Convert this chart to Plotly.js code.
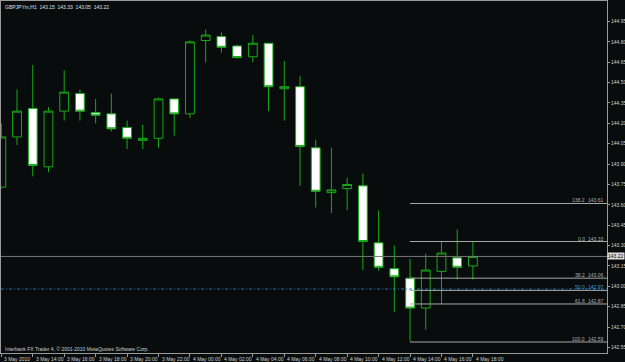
<!DOCTYPE html>
<html><head><meta charset="utf-8">
<script src="https://cdn.plot.ly/plotly-3.0.1.min.js"></script>
<style>html,body{margin:0;padding:0;background:#080c0c;}#chart{width:625px;height:362px;}</style>
</head><body><div id="chart"></div>
<script>
const times = ["3 May 12:00","3 May 13:00","3 May 14:00","3 May 15:00","3 May 16:00","3 May 17:00","3 May 18:00","3 May 19:00","3 May 20:00","3 May 21:00","3 May 22:00","3 May 23:00","4 May 00:00","4 May 01:00","4 May 02:00","4 May 03:00","4 May 04:00","4 May 05:00","4 May 06:00","4 May 07:00","4 May 08:00","4 May 09:00","4 May 10:00","4 May 11:00","4 May 12:00","4 May 13:00","4 May 14:00","4 May 15:00","4 May 16:00","4 May 17:00","4 May 18:00"];
const openP  = [143.73,144.10,144.31,143.88,144.29,144.42,144.28,144.27,144.17,144.075,144.09,144.38,144.27,144.81,144.84,144.77,144.69,144.79,144.455,144.47,144.02,143.69,143.72,143.74,143.32,143.13,143.06,142.84,143.11,143.21,143.15];
const highP  = [144.20,144.45,144.63,144.32,144.59,144.45,144.38,144.42,144.22,144.19,144.39,144.38,144.81,144.89,144.87,144.78,144.85,144.79,144.66,144.55,144.08,144.02,143.80,143.83,143.56,143.30,143.20,143.24,143.33,143.42,143.33];
const lowP   = [143.72,144.04,143.81,143.84,144.22,144.22,144.20,144.14,144.01,144.01,144.02,144.11,144.24,144.65,144.72,144.675,144.65,144.29,144.22,143.74,143.58,143.54,143.56,143.12,143.115,142.81,142.595,142.68,142.87,143.05,143.05];
const closeP = [144.10,144.29,143.89,144.29,144.43,144.29,144.26,144.16,144.09,144.09,144.38,144.27,144.80,144.85,144.76,144.685,144.79,144.47,144.47,144.03,143.70,143.71,143.75,143.33,143.14,143.07,142.84,143.12,143.245,143.14,143.22];

const yTickVals = [142.55,142.70,142.85,143.00,143.15,143.30,143.45,143.60,143.75,143.90,144.05,144.20,144.35,144.50,144.65,144.80,144.95];
const yTickText = ["142.55","142.70","142.85","143.00","143.15","143.30","143.45","143.60","143.75","143.90","144.05","144.20","144.35","144.50","144.65","144.80","144.95"];
const xTickTimes = ["3 May 12:00","3 May 14:00","3 May 16:00","3 May 18:00","3 May 20:00","3 May 22:00","4 May 00:00","4 May 02:00","4 May 04:00","4 May 06:00","4 May 08:00","4 May 10:00","4 May 12:00","4 May 14:00","4 May 16:00","4 May 18:00"];
const xTickText = ["3 May 2010","3 May 14:00","3 May 16:00","3 May 18:00","3 May 20:00","3 May 22:00","4 May 00:00","4 May 02:00","4 May 04:00","4 May 06:00","4 May 08:00","4 May 10:00","4 May 12:00","4 May 14:00","4 May 16:00","4 May 18:00"];

const fibLevels = ["138.2","0.0","38.2","50.0","61.8","100.0"];
const fibPrices = [143.61,143.33,143.06,142.97,142.87,142.59];
const fibStartTime = "4 May 14:00";
const bidPrice = 143.22;
const bluePrice = 142.98;
const headerText = "GBPJPYm,H1  143.15  143.33  143.05  143.22";
const footerText = "Interbank FX Trader 4, \u00a9 2001-2010 MetaQuotes Software Corp.";

const xIdx = times.map((t, i) => i);
const xTickIdx = xTickTimes.map(t => times.indexOf(t));
const fibStart = times.indexOf(fibStartTime);
const X0 = -0.02, X1 = 38.53;

const FONT = "Liberation Sans, Arial, sans-serif";
const FS = 5;
const GREEN = "#17aa17";
const FRAME = "#9a9a9a";

const trace = {
  type: "candlestick",
  x: xIdx, open: openP, high: highP, low: lowP, close: closeP,
  increasing: {line: {color: GREEN, width: 1}, fillcolor: "#080c0c"},
  decreasing: {line: {color: GREEN, width: 1}, fillcolor: "#ffffff"},
  whiskerwidth: 0,
  hoverinfo: "skip",
  showlegend: false
};

const shapes = [
  {type: "line", xref: "x", yref: "y", x0: X0, x1: X1, y0: bidPrice, y1: bidPrice, line: {color: "#767676", width: 1}},
  {type: "line", xref: "x", yref: "y", x0: X0, x1: X1, y0: bluePrice, y1: bluePrice, line: {color: "#2a78ad", width: 1, dash: "3px,2px,1px,2px"}}
];
fibPrices.forEach(p => shapes.push({type: "line", xref: "x", yref: "y", x0: fibStart, x1: X1, y0: p, y1: p, line: {color: "#a8a8a8", width: 1}}));

const ann = [];
ann.push({xref: "paper", yref: "paper", x: 0.003, y: 1, xanchor: "left", yanchor: "top", yshift: -1, text: headerText, showarrow: false, font: {family: FONT, size: FS, color: "#e0e0e0"}});
ann.push({xref: "paper", yref: "paper", x: 0.003, y: 0.0105, xanchor: "left", yanchor: "middle", text: footerText, showarrow: false, font: {family: FONT, size: FS, color: "#d0d0d0"}});
xTickIdx.forEach((xi, k) => ann.push({xref: "x", yref: "paper", x: xi, y: -0.0162, xanchor: "left", yanchor: "middle", xshift: 1, text: xTickText[k], showarrow: false, font: {family: FONT, size: FS, color: "#d0d0d0"}}));
fibPrices.forEach((p, k) => {
  const col = fibLevels[k] === "50.0" ? "#3c9ad8" : "#b0b0b0";
  ann.push({xref: "paper", yref: "y", x: 0.965, y: p, xanchor: "right", yanchor: "bottom", yshift: -1, text: fibLevels[k], showarrow: false, font: {family: FONT, size: FS, color: col}, borderpad: 0});
  ann.push({xref: "paper", yref: "y", x: 0.997, y: p, xanchor: "right", yanchor: "bottom", yshift: -1, text: p.toFixed(2), showarrow: false, font: {family: FONT, size: FS, color: col}, borderpad: 0});
});
ann.push({xref: "paper", yref: "y", x: 1, y: bidPrice, xanchor: "left", yanchor: "middle", xshift: 0, text: bidPrice.toFixed(2), showarrow: false, bgcolor: "#dcdcdc", borderpad: 0, font: {family: FONT, size: FS, color: "#000000"}});

const layout = {
  width: 625, height: 362,
  margin: {l: 1, r: 18, t: 1, b: 9, pad: 0},
  paper_bgcolor: "#080c0c", plot_bgcolor: "#080c0c",
  boxgap: 0.2,
  showlegend: false,
  xaxis: {
    type: "linear", range: [X0, X1], fixedrange: true,
    rangeslider: {visible: false},
    showgrid: false, zeroline: false,
    showline: true, mirror: true, linecolor: FRAME, linewidth: 1,
    tickmode: "array", tickvals: xTickIdx, showticklabels: false,
    ticks: "outside", ticklen: 3, tickcolor: FRAME, tickwidth: 1
  },
  yaxis: {
    side: "right", range: [142.509, 145.101], fixedrange: true,
    showgrid: false, zeroline: false,
    showline: true, mirror: true, linecolor: FRAME, linewidth: 1,
    tickmode: "array", tickvals: yTickVals, ticktext: yTickText,
    ticks: "outside", ticklen: 2, tickcolor: FRAME, tickwidth: 1,
    tickfont: {family: FONT, size: FS, color: "#d0d0d0"}
  },
  shapes: shapes,
  annotations: ann
};

Plotly.newPlot("chart", [trace], layout, {staticPlot: true, displayModeBar: false});
</script>
</body></html>
